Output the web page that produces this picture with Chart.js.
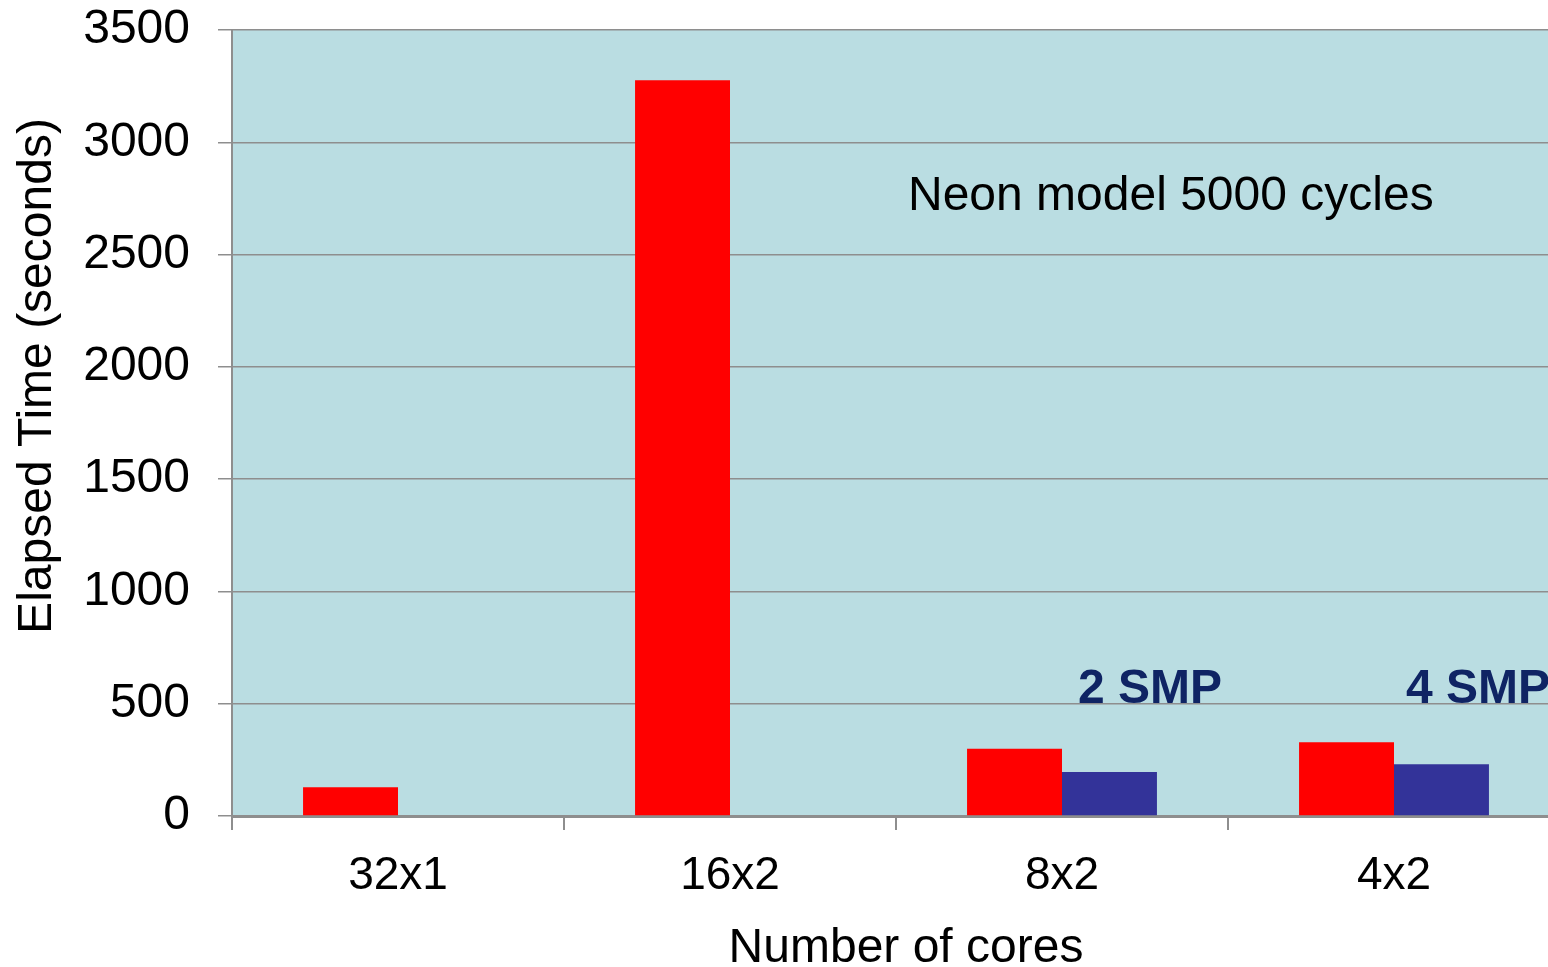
<!DOCTYPE html>
<html>
<head>
<meta charset="utf-8">
<script src="https://cdn.jsdelivr.net/npm/chart.js@4"></script>
<style>
  html, body { margin: 0; padding: 0; background: #ffffff; overflow: hidden; }
  #wrap { width: 1548px; height: 967px; overflow: hidden; }
</style>
</head>
<body>
<div id="wrap"><canvas id="chart" width="1562" height="967"></canvas></div>
<script>
// chart data
const categories = ['32x1', '16x2', '8x2', '4x2'];
const redTimes = [128, 3276, 300, 328];
const blueTimes = [null, null, 196, 230];
const yTicks = [0, 500, 1000, 1500, 2000, 2500, 3000, 3500];

const FONT = '"Liberation Sans", Arial, sans-serif';
const GRID = '#8e8e8e';

// fill the plot area with the light blue background
const plotBg = {
  id: 'plotBg',
  beforeDraw(chart) {
    const { ctx, chartArea: a } = chart;
    ctx.save();
    ctx.fillStyle = '#badde2';
    ctx.fillRect(a.left, a.top, a.right - a.left, a.bottom - a.top);
    ctx.restore();
  }
};

// axis titles and the text notes inside the plot
const notes = {
  id: 'notes',
  afterDraw(chart) {
    const { ctx } = chart;
    ctx.save();
    ctx.fillStyle = '#000000';
    ctx.font = '48px ' + FONT;
    ctx.textBaseline = 'alphabetic';

    ctx.textAlign = 'center';
    ctx.fillText('Number of cores', 906, 962);

    ctx.save();
    ctx.translate(51, 376);
    ctx.rotate(-Math.PI / 2);
    ctx.fillText('Elapsed Time (seconds)', 0, 0);
    ctx.restore();

    ctx.textAlign = 'left';
    ctx.fillText('Neon model 5000 cycles', 908, 210);

    ctx.fillStyle = '#0f2464';
    ctx.font = 'bold 48px ' + FONT;
    ctx.fillText('2 SMP', 1078, 703);
    ctx.fillText('4 SMP', 1406, 703);
    ctx.restore();
  }
};

new Chart(document.getElementById('chart'), {
  type: 'bar',
  data: {
    labels: categories,
    datasets: [
      { label: 'red', data: redTimes, backgroundColor: '#ff0000', borderWidth: 0 },
      { label: 'blue', data: blueTimes, backgroundColor: '#333399', borderWidth: 0 }
    ]
  },
  options: {
    responsive: false,
    animation: false,
    categoryPercentage: 0.572,
    barPercentage: 1.0,
    layout: { padding: { top: 0, right: 2, left: 0, bottom: 0 } },
    plugins: {
      legend: { display: false },
      tooltip: { enabled: false }
    },
    scales: {
      x: {
        grid: {
          offset: true,
          drawOnChartArea: false,
          drawTicks: true,
          tickLength: 14,
          color: GRID,
          lineWidth: 2
        },
        border: { color: GRID, width: 3 },
        ticks: {
          color: '#000000',
          font: { family: FONT, size: 46 },
          padding: 19,
          maxRotation: 0
        },
        afterFit(scale) { scale.height = 151; }
      },
      y: {
        min: 0,
        max: 3500,
        afterBuildTicks(scale) { scale.ticks = yTicks.map(v => ({ value: v })); },
        grid: {
          color: GRID,
          lineWidth: 1.5,
          tickLength: 14,
          drawTicks: true
        },
        border: { color: GRID, width: 2 },
        ticks: {
          color: '#000000',
          font: { family: FONT, size: 48, lineHeight: 0.6 },
          padding: 28,
          callback: v => String(v)
        },
        afterFit(scale) {
          scale.width = 232;
          scale.paddingTop = 30;
          scale.paddingBottom = 0;
        }
      }
    }
  },
  plugins: [plotBg, notes]
});
</script>
</body>
</html>
